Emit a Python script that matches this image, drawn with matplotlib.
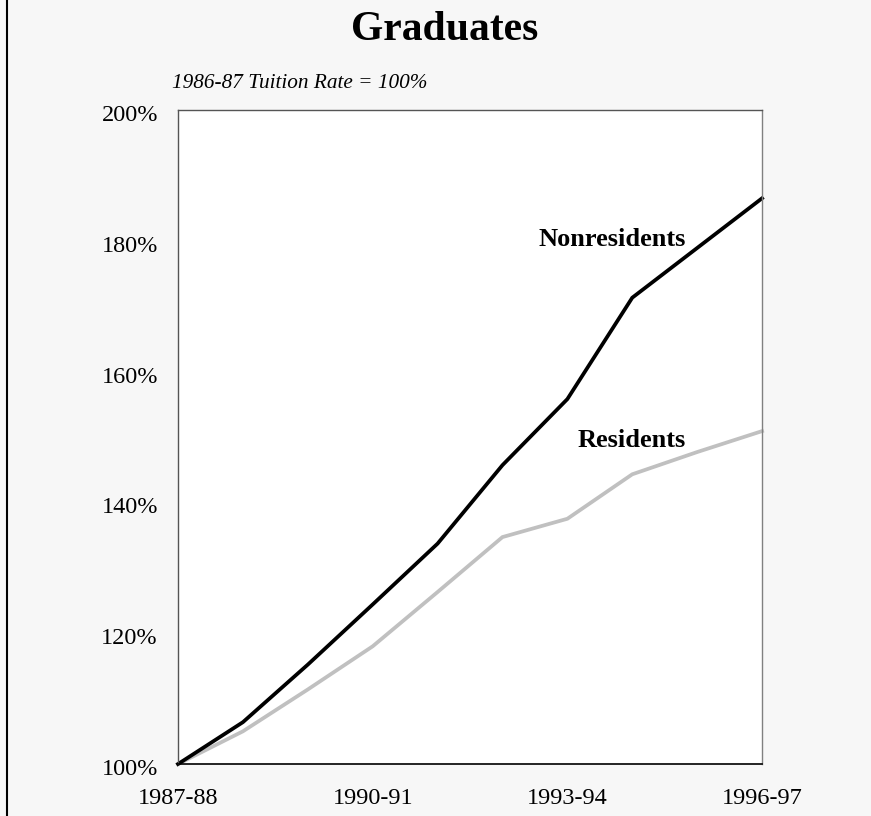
import matplotlib
matplotlib.use("Agg")
import matplotlib.pyplot as plt
import matplotlib.transforms as mtransforms
from matplotlib.lines import Line2D
import numpy as np

# Tuition index, 1986-87 = 100%
years = ["1987-88", "1988-89", "1989-90", "1990-91", "1991-92",
         "1992-93", "1993-94", "1994-95", "1995-96", "1996-97"]
nonresidents = [100, 106.4, 115.2, 124.4, 133.7, 145.7, 155.8, 171.3, 178.9, 186.5]
residents = [100, 105.0, 111.4, 118.0, 126.3, 134.7, 137.5, 144.3, 147.7, 150.9]

yticks = [100, 120, 140, 160, 180, 200]
xtick_idx = [0, 3, 6, 9]

plt.rcParams['font.family'] = ['Liberation Serif', 'DejaVu Serif']

bg = '#f7f7f7'
fig = plt.figure(figsize=(8.71, 8.16), dpi=100, facecolor=bg)
ax = fig.add_axes([0.2044, 0.0637, 0.6705, 0.8015])
ax.set_facecolor('white')

x = np.arange(len(years))
ax.plot(x, residents, color='#c0c0c0', lw=2.7, solid_joinstyle='miter', clip_on=False)
ax.plot(x, nonresidents, color='black', lw=2.7, solid_joinstyle='miter', clip_on=False)

ax.set_xlim(0, len(years) - 1)
ax.set_ylim(100, 200)
ax.set_yticks(yticks)
ax.set_yticklabels([f"{v}%" for v in yticks])
ax.set_xticks(xtick_idx)
ax.set_xticklabels([years[i] for i in xtick_idx])
ax.tick_params(axis='both', length=0, labelsize=17.5)
ax.tick_params(axis='y', pad=14.5)
ax.tick_params(axis='x', pad=17)

# y labels sit a little below their gridline in the original
shift = mtransforms.ScaledTranslation(0, -3 / 100, fig.dpi_scale_trans)
for lab in ax.get_yticklabels():
    lab.set_transform(lab.get_transform() + shift)

for side in ['left', 'top', 'right']:
    ax.spines[side].set_color('#555555')
    ax.spines[side].set_linewidth(1.0)
ax.spines['right'].set_color('#808080')
ax.spines['bottom'].set_color('black')
ax.spines['bottom'].set_linewidth(1.2)

# series labels
ax.text(7.83, 180.2, "Nonresidents", ha='right', va='center',
        fontsize=19, fontweight='bold')
ax.text(7.83, 149.5, "Residents", ha='right', va='center',
        fontsize=19, fontweight='bold')

fig.text(0.511, 1 - 30 / 816, "Graduates", ha='center', va='center',
         fontsize=30, fontweight='bold')
fig.text(172 / 871, 1 - 83 / 816, "1986-87 Tuition Rate = 100%", ha='left',
         va='center', fontsize=15.3, style='italic')

# left frame line
fig.add_artist(Line2D([6.5 / 871, 6.5 / 871], [0, 1], color='black', lw=1.5,
                      transform=fig.transFigure))

fig.savefig("out.png", dpi=100, facecolor=bg)
